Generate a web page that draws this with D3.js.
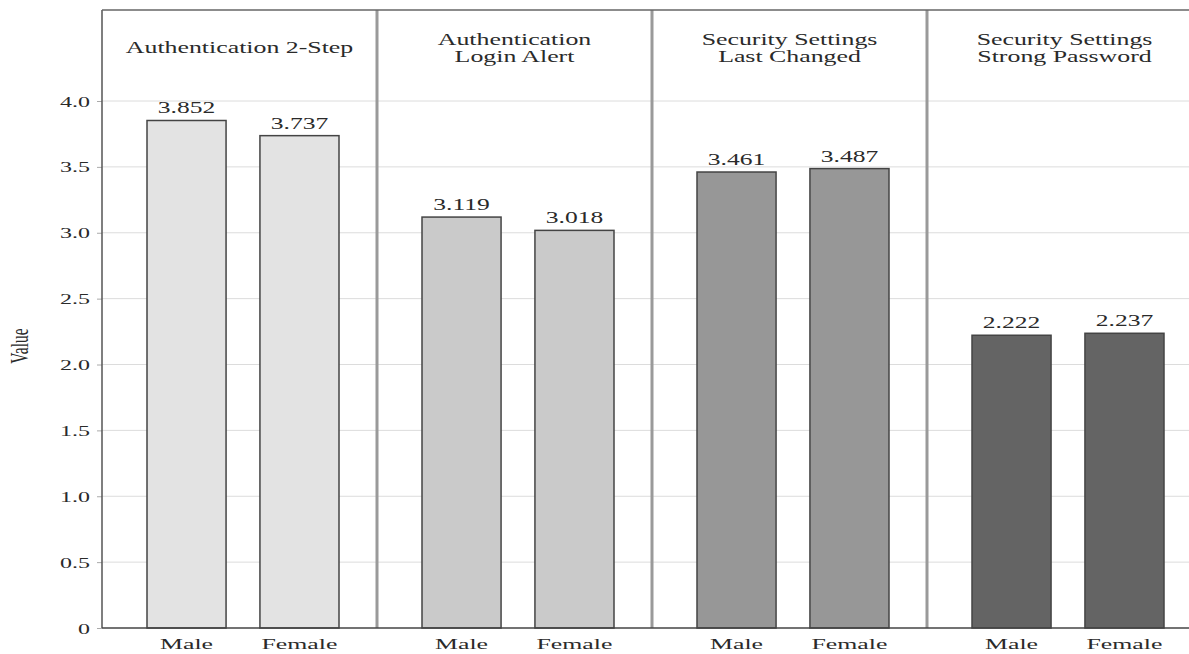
<!DOCTYPE html>
<html>
<head>
<meta charset="utf-8">
<script src="https://cdn.jsdelivr.net/npm/d3@7"></script>
<style>
  html, body { margin: 0; padding: 0; background: #fff; }
  svg { display: block; }
  text { font-family: "Liberation Serif", "DejaVu Serif", serif; fill: #2a2a2a; }
</style>
</head>
<body>
<svg id="chart" width="1189" height="654"></svg>
<script>
// ---- data ----
const panels = ["Authentication 2-Step", "Authentication\nLogin Alert", "Security Settings\nLast Changed", "Security Settings\nStrong Password"];
const genders = ["Male", "Female"];
const maleValues = [3.852, 3.119, 3.461, 2.222];
const femaleValues = [3.737, 3.018, 3.487, 2.237];
const panelColors = ["#e3e3e3", "#cacaca", "#979797", "#646464"];
const yTicks = [0, 0.5, 1.0, 1.5, 2.0, 2.5, 3.0, 3.5, 4.0];

const svg = d3.select("#chart");
const W = 1189, H = 654;
const plotLeft = 102, plotTop = 10, plotBottom = 628, plotRight = 1202;

const y = d3.scaleLinear().domain([0, 4]).range([plotBottom, 101]);
const xPanel = d3.scaleBand().domain(d3.range(panels.length)).range([plotLeft, plotRight]).padding(0);
const xGender = d3.scaleBand().domain(genders).range([45, 237]).paddingInner(0.3).paddingOuter(0);

// helper: horizontally stretched text (the reference's glyphs are wide)
function stretchedText(sel, x, yPos, str, size, sx, anchor) {
  return sel.append("text")
    .attr("transform", `translate(${x},${yPos}) scale(${sx},1)`)
    .attr("text-anchor", anchor || "middle")
    .attr("font-size", size)
    .text(str);
}

// gridlines
svg.append("g").selectAll("line").data(yTicks.filter(d => d > 0)).join("line")
  .attr("x1", plotLeft).attr("x2", W)
  .attr("y1", d => y(d)).attr("y2", d => y(d))
  .attr("stroke", "#dcdcdc").attr("stroke-width", 1);

// y axis
const yAxis = d3.axisLeft(y).tickValues(yTicks)
  .tickFormat(d => d === 0 ? "0" : d3.format(".1f")(d))
  .tickSize(5).tickPadding(6);
const gy = svg.append("g").attr("transform", `translate(${plotLeft},0)`).call(yAxis);
gy.select(".domain").remove();
gy.selectAll(".tick line").attr("stroke", "#aaa");
gy.selectAll(".tick text")
  .attr("x", null).attr("dy", "0.34em")
  .attr("transform", "translate(-12,0) scale(1.6,1)")
  .attr("font-size", 15).attr("fill", "#2a2a2a")
  .style("font-family", '"Liberation Serif", serif');

// y label
svg.append("text")
  .attr("transform", `translate(28,346) scale(1.6,1) rotate(-90)`)
  .attr("text-anchor", "middle")
  .attr("font-size", 15.5)
  .text("Value");

// panels
const data = panels.map((p, i) => ({ panel: p, i, values: [maleValues[i], femaleValues[i]] }));

const pg = svg.append("g").selectAll("g").data(data).join("g")
  .attr("transform", d => `translate(${xPanel(d.i)},0)`);

// bars
pg.selectAll("rect").data(d => genders.map((g, k) => ({ g, v: d.values[k], i: d.i }))).join("rect")
  .attr("x", d => xGender(d.g))
  .attr("y", d => y(d.v))
  .attr("width", xGender.bandwidth())
  .attr("height", d => plotBottom - y(d.v))
  .attr("fill", d => panelColors[d.i])
  .attr("stroke", "#444").attr("stroke-width", 1.5);

// value labels, category labels, titles
pg.each(function(d) {
  const g = d3.select(this);
  genders.forEach((gn, k) => {
    const cx = xGender(gn) + xGender.bandwidth() / 2;
    stretchedText(g, cx, y(d.values[k]) - 7, d3.format(".3f")(d.values[k]), 16.5, 1.55);
    stretchedText(g, cx, 649, gn, 15, 1.72);
  });
  const lines = d.panel.split("\n");
  const cx = xPanel.bandwidth() / 2;
  const startY = lines.length === 1 ? 53 : 45;
  lines.forEach((ln, k) => stretchedText(g, cx, startY + k * 17, ln, 17, 1.52));
});

// separators between panels
svg.append("g").selectAll("line").data(d3.range(1, panels.length)).join("line")
  .attr("x1", d => xPanel(d)).attr("x2", d => xPanel(d))
  .attr("y1", plotTop).attr("y2", plotBottom)
  .attr("stroke", "#9a9a9a").attr("stroke-width", 3);

// frame: left, top, bottom
svg.append("line").attr("x1", plotLeft).attr("x2", plotLeft).attr("y1", plotTop).attr("y2", plotBottom)
  .attr("stroke", "#555").attr("stroke-width", 1.5);
svg.append("line").attr("x1", plotLeft).attr("x2", W).attr("y1", plotTop).attr("y2", plotTop)
  .attr("stroke", "#666").attr("stroke-width", 1.5);
svg.append("line").attr("x1", plotLeft).attr("x2", W).attr("y1", plotBottom).attr("y2", plotBottom)
  .attr("stroke", "#444").attr("stroke-width", 1.5);
</script>
</body>
</html>
